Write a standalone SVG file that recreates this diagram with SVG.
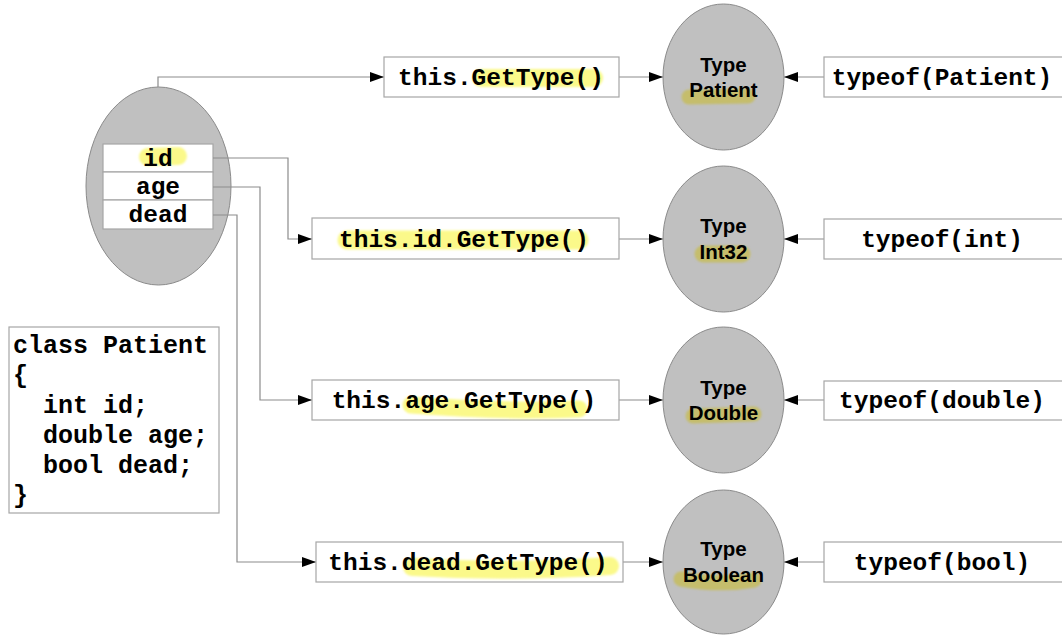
<svg xmlns="http://www.w3.org/2000/svg" width="1062" height="642" viewBox="0 0 1062 642">
<defs>
<style>
.box{fill:#fff;stroke:#a6a6a6;stroke-width:1.2}
.ell{fill:#c0c0c0;stroke:#8a8a8a;stroke-width:1}
.code{font-family:"Liberation Mono","Courier New",monospace;font-weight:bold;font-size:24.5px;fill:#000}
.cls{font-family:"Liberation Mono","Courier New",monospace;font-weight:bold;font-size:25px;fill:#000}
.lbl{font-family:"Liberation Sans",Arial,sans-serif;font-weight:bold;font-size:20.5px;fill:#000;text-anchor:middle}
.mid{text-anchor:middle}
.hw{fill:none;stroke:#fbf98a;stroke-linecap:round;stroke-linejoin:round}
.hg{fill:none;stroke:#c5bd6c;stroke-linecap:round;stroke-linejoin:round}
.con{fill:none;stroke:#8c8c8c;stroke-width:1.2}
</style>
<filter id="soft" filterUnits="userSpaceOnUse" x="0" y="0" width="1062" height="642"><feGaussianBlur stdDeviation="0.8"/></filter>
<marker id="arr" viewBox="0 0 14 10" refX="14" refY="5" markerWidth="14" markerHeight="10" markerUnits="userSpaceOnUse" orient="auto">
<path d="M0,0 L14,5 L0,10 z" fill="#000"/>
</marker>
</defs>
<rect width="1062" height="642" fill="#fff"/>

<g id="patient-object">
<ellipse class="ell" cx="158.5" cy="186" rx="72.5" ry="99"/>
<rect class="box" x="103" y="144" width="110" height="28"/>
<rect class="box" x="103" y="172" width="110" height="28"/>
<rect class="box" x="103" y="200" width="110" height="29"/>
<path class="hw" filter="url(#soft)" stroke-width="18" d="M148,157 L178,156"/>
<text class="code mid" x="158" y="166">id</text>
<text class="code mid" x="158" y="194">age</text>
<text class="code mid" x="158" y="222">dead</text>
</g>

<g id="class-patient">
<rect class="box" x="9" y="327" width="210" height="186"/>
<text class="cls" x="13" y="353">class Patient</text>
<text class="cls" x="13" y="383">{</text>
<text class="cls" x="13" y="413" xml:space="preserve">  int id;</text>
<text class="cls" x="13" y="443" xml:space="preserve">  double age;</text>
<text class="cls" x="13" y="473" xml:space="preserve">  bool dead;</text>
<text class="cls" x="13" y="503">}</text>
</g>

<g id="connectors">
<path class="con" marker-end="url(#arr)" d="M158,87 V77 H384"/>
<path class="con" marker-end="url(#arr)" d="M213,158 H288 V239 H312"/>
<path class="con" marker-end="url(#arr)" d="M213,187 H260 V400 H312"/>
<path class="con" marker-end="url(#arr)" d="M213,215 H237 V562 H316"/>
<path class="con" marker-end="url(#arr)" d="M619,77 H663"/>
<path class="con" marker-end="url(#arr)" d="M619,239 H663"/>
<path class="con" marker-end="url(#arr)" d="M619,400 H663"/>
<path class="con" marker-end="url(#arr)" d="M623,562 H663"/>
<path class="con" marker-end="url(#arr)" d="M824,77 H784"/>
<path class="con" marker-end="url(#arr)" d="M824,239 H784"/>
<path class="con" marker-end="url(#arr)" d="M824,400 H784"/>
<path class="con" marker-end="url(#arr)" d="M824,562 H784"/>
</g>

<g id="this-gettype">
<rect class="box" x="384" y="57" width="235" height="40"/>
<path class="hw" filter="url(#soft)" stroke-width="18" d="M481,78 L594,78"/>
<text class="code mid" x="501" y="85">this.GetType()</text>
</g>
<g id="this-id-gettype">
<rect class="box" x="312" y="218" width="307" height="41"/>
<path class="hw" filter="url(#soft)" stroke-width="19" d="M347,240 L579,240"/>
<text class="code mid" x="464" y="247">this.id.GetType()</text>
</g>
<g id="this-age-gettype">
<rect class="box" x="312" y="380" width="307" height="40"/>
<path class="hw" filter="url(#soft)" stroke-width="17" d="M411,405 Q500,412 579,409"/>
<text class="code mid" x="464" y="408">this.age.GetType()</text>
</g>
<g id="this-dead-gettype">
<rect class="box" x="316" y="542" width="307" height="40"/>
<path class="hw" filter="url(#soft)" stroke-width="18" d="M412,567 Q510,573 610,566"/>
<text class="code mid" x="468" y="570">this.dead.GetType()</text>
</g>

<g id="type-patient">
<ellipse class="ell" cx="723.5" cy="77" rx="60.5" ry="73"/>
<path class="hg" filter="url(#soft)" stroke-width="15" d="M689,97 L748,96"/>
<text class="lbl" x="723.5" y="72">Type</text>
<text class="lbl" x="723.5" y="97">Patient</text>
</g>
<g id="type-int32">
<ellipse class="ell" cx="723.5" cy="239" rx="60.5" ry="73"/>
<path class="hg" filter="url(#soft)" stroke-width="17" d="M703,254 L742,254"/>
<text class="lbl" x="723.5" y="233">Type</text>
<text class="lbl" x="723.5" y="259">Int32</text>
</g>
<g id="type-double">
<ellipse class="ell" cx="723.5" cy="400" rx="60.5" ry="73"/>
<path class="hg" filter="url(#soft)" stroke-width="15" d="M693,416 L754,414"/>
<text class="lbl" x="723.5" y="395">Type</text>
<text class="lbl" x="723.5" y="420">Double</text>
</g>
<g id="type-boolean">
<ellipse class="ell" cx="723.5" cy="562" rx="60.5" ry="72"/>
<path class="hg" filter="url(#soft)" stroke-width="15" d="M681,579 Q720,586 754,580"/>
<text class="lbl" x="723.5" y="556">Type</text>
<text class="lbl" x="723.5" y="582">Boolean</text>
</g>

<g id="typeof-patient">
<rect class="box" x="824" y="57" width="242" height="40"/>
<text class="code mid" x="942" y="85">typeof(Patient)</text>
</g>
<g id="typeof-int">
<rect class="box" x="824" y="219" width="242" height="40"/>
<text class="code mid" x="942" y="247">typeof(int)</text>
</g>
<g id="typeof-double">
<rect class="box" x="824" y="381" width="242" height="39"/>
<text class="code mid" x="942" y="408">typeof(double)</text>
</g>
<g id="typeof-bool">
<rect class="box" x="824" y="542" width="242" height="40"/>
<text class="code mid" x="942" y="570">typeof(bool)</text>
</g>
</svg>
